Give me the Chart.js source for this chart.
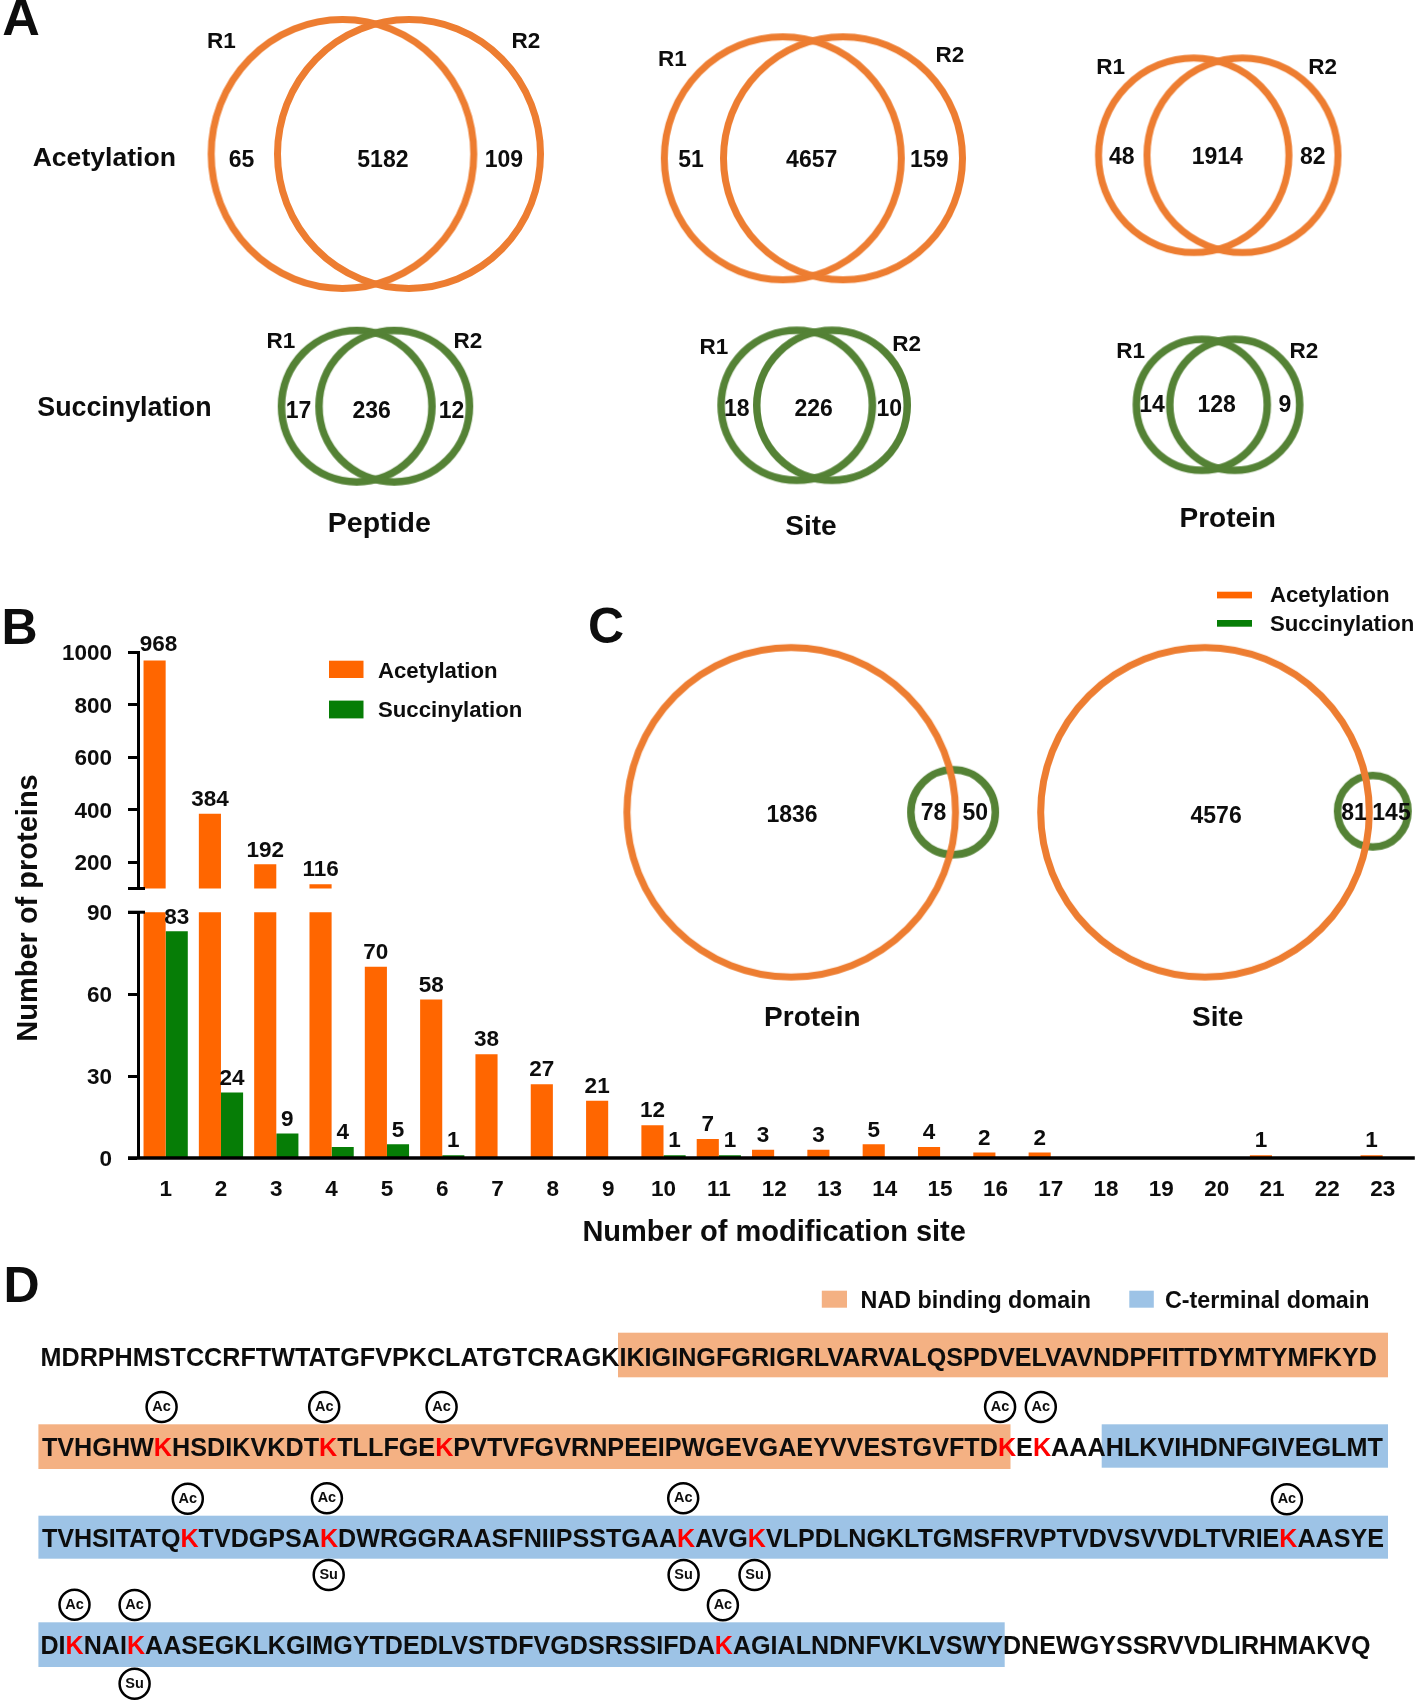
<!DOCTYPE html>
<html>
<head>
<meta charset="utf-8">
<script src="https://cdn.jsdelivr.net/npm/chart.js@4"></script>
<style>
html,body{margin:0;padding:0;background:#fff;}
#page{position:relative;width:1416px;height:1703px;overflow:hidden;background:#fff;filter:blur(0.45px);}
canvas{position:absolute;}
</style>
</head>
<body>
<div id="page">
<canvas id="overlay" width="1416" height="1703" style="left:0;top:0"></canvas>
<canvas id="upper" width="1416" height="280" style="left:0;top:620px"></canvas>
<canvas id="lower" width="1416" height="350" style="left:0;top:900px"></canvas>
</div>
<script>
/* ---------- data ---------- */
const categories = ["1","2","3","4","5","6","7","8","9","10","11","12","13","14","15","16","17","18","19","20","21","22","23"];
const acetylationCounts  = [968,384,192,116,70,58,38,27,21,12,7,3,3,5,4,2,2,0,0,0,1,0,1];
const succinylationCounts = [83,24,9,4,5,1,0,0,0,1,1,0,0,0,0,0,0,0,0,0,0,0,0];
const seriesNames = ["Acetylation","Succinylation"];
const upperTicks = [200,400,600,800,1000];
const lowerTicks = [0,30,60,90];

const acPeptide = [65,5182,109];
const acSite    = [51,4657,159];
const acProtein = [48,1914,82];
const suPeptide = [17,236,12];
const suSite    = [18,226,10];
const suProtein = [14,128,9];
const overlapProtein = [1836,78,50];
const overlapSite    = [4576,81,145];

/* odd positions are the modified lysines, drawn red */
const seqRow1 = ["MDRPHMSTCCRFTWTATGFVPKCLATGTCRAGKIKIGINGFGRIGRLVARVALQSPDVELVAVNDPFITTDYMTYMFKYD"];
const seqRow2 = ["TVHGHW","K","HSDIKVKDT","K","TLLFGE","K","PVTVFGVRNPEEIPWGEVGAEYVVESTGVFTD","K","E","K","AAAHLKVIHDNFGIVEGLMT"];
const seqRow3 = ["TVHSITATQ","K","TVDGPSA","K","DWRGGRAASFNIIPSSTGAA","K","AVG","K","VLPDLNGKLTGMSFRVPTVDVSVVDLTVRIE","K","AASYE"];
const seqRow4 = ["DI","K","NAI","K","AASEGKLKGIMGYTDEDLVSTDFVGDSRSSIFDA","K","AGIALNDNFVKLVSWYDNEWGYSSRVVDLIRHMAKVQ"];

/* ---------- styling / layout ---------- */
const FF = '"Liberation Sans", Arial, sans-serif';
const INK = '#0d0d0d';
const BAR_ORANGE = '#FF6600', BAR_GREEN = '#067D06';
const V_ORANGE = '#ED7D31', V_GREEN = '#548235';
const D_ORANGE = '#F4B183', D_BLUE = '#9DC3E6';

function ring(rx, ry, lw, color){
  const c = document.createElement('canvas');
  c.width = Math.ceil(2*rx+4); c.height = Math.ceil(2*ry+4);
  const g = c.getContext('2d');
  g.strokeStyle = color; g.lineWidth = lw;
  g.beginPath();
  g.ellipse(c.width/2, c.height/2, rx-lw/2, ry-lw/2, 0, 0, Math.PI*2);
  g.stroke();
  return c;
}
/* [centre x, centre y, outer rx, outer ry] */
const orangeRings = [
  [342.5,154,134.8,137.9],[409,154,135,137.9],
  [782.8,158.3,122,125],[843,158.3,123,125],
  [1193.7,155.2,98.7,100.8],[1242.5,155.2,99,100.8],
  [791.2,812.3,167.8,168.3],[1205,812.3,167.8,168.3]
];
const greenRings = [
  [356.7,406.2,79,79.4],[394.2,406.2,79,79.4],
  [796.7,405.3,79.4,78.7],[832,405.3,79,78.7],
  [1201.8,404.8,69.2,69.2],[1234.7,404.8,68.7,69.2],
  [953.1,812.2,46,46.2],[1372.8,811.2,39,39.5]
];
const acBadges = [[161.6,1407],[324.2,1407],[441.6,1407],[1000.1,1407],[1040.8,1407],
  [187.8,1498.7],[326.9,1498.3],[683.2,1498.3],[1286.9,1499.3],
  [74.5,1604.7],[134.6,1605],[722.9,1605.3]];
const suBadges = [[328.7,1575],[683.6,1575],[754.5,1575],[134.6,1683.7]];

const vennText = [
  [acPeptide,[241.6,158.2],[382.9,158.2],[503.9,158.2]],
  [acSite,[691,158.3],[811.7,158.3],[929.3,158.3]],
  [acProtein,[1121.7,155.7],[1217.3,155.7],[1312.7,155.7]],
  [suPeptide,[298.5,409.6],[371.6,409.6],[451.5,409.6]],
  [suSite,[736.7,407.3],[813.7,407.3],[889.3,407.3]],
  [suProtein,[1152,403.3],[1216.7,403.3],[1285,403.3]],
  [overlapProtein,[792,814],[933.6,811.7],[975.2,811.7]],
  [overlapSite,[1216.1,815],[1354,811.7],[1391.5,811.7]]
];
const repLabels = [
  ["R1",221.3,40],["R2",526,39.3],["R1",672.3,57.3],["R2",950,53.3],["R1",1110.7,65.7],["R2",1322.7,65.7],
  ["R1",280.8,340],["R2",467.8,340],["R1",714,345.3],["R2",906.7,342.3],["R1",1130.7,350],["R2",1304,350]
];

const TEXT_DY = 2;
function T(ctx, s, x, y, size, o){
  o = o || {};
  ctx.save();
  ctx.font = (o.normal?'':'bold ') + size + 'px ' + FF;
  ctx.fillStyle = o.color || INK;
  ctx.textAlign = o.align || 'center';
  ctx.textBaseline = 'middle';
  ctx.translate(x,y+TEXT_DY);
  if(o.rot) ctx.rotate(o.rot);
  ctx.fillText(String(s),0,0);
  ctx.restore();
}
function seq(ctx, segs, x0, x1, y){
  ctx.save();
  ctx.font = 'bold 26px ' + FF;
  ctx.textBaseline = 'middle';
  ctx.textAlign = 'left';
  const total = ctx.measureText(segs.join('')).width;
  const sx = (x1-x0)/total;
  ctx.translate(x0,y+TEXT_DY);
  ctx.scale(sx,1);
  let x = 0, prefix = '';
  segs.forEach((s,i)=>{
    ctx.fillStyle = i%2 ? '#FF0000' : INK;
    x = ctx.measureText(prefix).width;
    ctx.fillText(s,x,0);
    prefix += s;
  });
  ctx.restore();
}

const overlayPlugin = {
  id:'overlayPlugin',
  beforeDatasetsDraw(chart){
    const c = chart.ctx, X = chart.scales.x, Y = chart.scales.y;
    const rect = (x0,y0,x1,y1,col)=>{
      c.fillStyle = col;
      c.fillRect(X.getPixelForValue(x0),Y.getPixelForValue(y0),x1-x0,y1-y0);
    };
    rect(618,1332.7,1388,1377.3,D_ORANGE);
    rect(38.4,1424.3,1010.5,1469,D_ORANGE);
    rect(1101.7,1424.3,1388,1467.7,D_BLUE);
    rect(38.4,1515.7,1388,1558.7,D_BLUE);
    rect(38.4,1622.3,1004.7,1667,D_BLUE);
    rect(821.8,1290.7,847,1307.7,D_ORANGE);
    rect(1129.3,1290.7,1153.8,1307.7,D_BLUE);
    rect(329,660.7,363.5,678,BAR_ORANGE);
    rect(329,700.6,363.5,718.4,BAR_GREEN);
    rect(1217,591.7,1252,598.4,BAR_ORANGE);
    rect(1217,620,1252,626.7,BAR_GREEN);
  },
  afterDatasetsDraw(chart){
    const c = chart.ctx;
    T(c,'A',21,19,52); T(c,'B',19.5,628,50); T(c,'C',606,627,50); T(c,'D',21.5,1286,50);
    T(c,'Acetylation',104.3,157.1,26.6);
    T(c,'Succinylation',124.4,407.1,26.8);
    T(c,'Peptide',379.3,522,28.5);
    T(c,'Site',811,525,28);
    T(c,'Protein',1227.7,517.3,28);
    T(c,'Protein',812.3,1016.7,28);
    T(c,'Site',1217.7,1016.7,28);
    repLabels.forEach(r=>T(c,r[0],r[1],r[2],22.5));
    vennText.forEach(v=>{
      v[0].forEach((n,i)=>T(c,n,v[i+1][0],v[i+1][1],23));
    });
    T(c,'Number of proteins',29,906,29,{rot:-Math.PI/2});
    T(c,seriesNames[0],378,670,22.2,{align:'left'});
    T(c,seriesNames[1],378,708.8,22.2,{align:'left'});
    T(c,seriesNames[0],1270,594.3,22.2,{align:'left'});
    T(c,seriesNames[1],1270,622.7,22.2,{align:'left'});
    T(c,'NAD binding domain',860.6,1300,23.3,{align:'left'});
    T(c,'C-terminal domain',1165,1300,23.3,{align:'left'});
    seq(c,seqRow1,40.5,1377,1356.7);
    seq(c,seqRow2,41.9,1382.8,1446.7);
    seq(c,seqRow3,41.9,1384,1537.7);
    seq(c,seqRow4,40.5,1370.6,1644.7);
    acBadges.forEach(b=>T(c,'Ac',b[0],b[1]-2,14.5));
    suBadges.forEach(b=>T(c,'Su',b[0],b[1]-2,14.5));
  }
};

const pts = a => a.map(r=>({x:r[0],y:r[1]}));
new Chart(document.getElementById('overlay'),{
  type:'scatter',
  data:{datasets:[
    {label:'orange rings',data:pts(orangeRings),pointRadius:1,pointStyle:orangeRings.map(r=>ring(r[2],r[3],7,V_ORANGE))},
    {label:'green rings',data:pts(greenRings),pointRadius:1,pointStyle:greenRings.map(r=>ring(r[2],r[3],7.5,V_GREEN))},
    {label:'Ac',data:pts(acBadges),pointRadius:15,pointBorderWidth:2.5,pointBackgroundColor:'#fff',pointBorderColor:'#000'},
    {label:'Su',data:pts(suBadges),pointRadius:15,pointBorderWidth:2.5,pointBackgroundColor:'#fff',pointBorderColor:'#000'}
  ]},
  options:{
    responsive:false,maintainAspectRatio:false,animation:false,devicePixelRatio:1,
    layout:{padding:0,autoPadding:false},
    plugins:{legend:{display:false},tooltip:{enabled:false},title:{display:false}},
    scales:{
      x:{type:'linear',display:false,min:0,max:1416},
      y:{type:'linear',display:false,min:0,max:1703,reverse:true}
    }
  },
  plugins:[overlayPlugin]
});

/* ---------- panel B: two stacked Chart.js charts forming the broken axis ---------- */
const barLabels = {
  id:'barLabels',
  afterDatasetsDraw(chart){
    const c = chart.ctx, ys = chart.scales.y;
    chart.data.datasets.forEach((ds,di)=>{
      const meta = chart.getDatasetMeta(di);
      ds.data.forEach((v,i)=>{
        if(!v || v<ys.min || v>ys.max) return;
        const el = meta.data[i];
        T(c,v,el.x+(v===968?4:0),el.y-(v===968?18:16),22.5);
      });
    });
  }
};
const axisExtras = {
  id:'axisExtras',
  afterDraw(chart){
    const c = chart.ctx, ys = chart.scales.y, a = chart.chartArea;
    c.save();
    c.strokeStyle = '#000';
    const isLower = ys.min === 0;
    c.lineWidth = 3;
    const capY = ys.getPixelForValue(isLower ? ys.max : ys.min);
    c.beginPath(); c.moveTo(a.left-10,capY); c.lineTo(a.left+7,capY); c.stroke();
    if(isLower){
      c.lineWidth = 3.5;
      const zy = ys.getPixelForValue(0);
      c.beginPath(); c.moveTo(a.left-10,zy); c.lineTo(a.right+4.5,zy); c.stroke();
    }
    c.restore();
  }
};
const barDatasets = () => ([
  {label:seriesNames[0],data:acetylationCounts,backgroundColor:BAR_ORANGE},
  {label:seriesNames[1],data:succinylationCounts,backgroundColor:BAR_GREEN}
]);
const yAxis = (min,max,ticksList)=>({
  min,max,
  afterFit:s=>{s.width=138;s.paddingTop=0;s.paddingBottom=0;},
  afterBuildTicks:s=>{s.ticks=ticksList.map(v=>({value:v}));},
  border:{display:true,color:'#000',width:3},
  grid:{drawOnChartArea:false,drawTicks:true,tickLength:10,tickWidth:3,tickColor:'#000'},
  ticks:{color:INK,padding:16,labelOffset:2,autoSkip:false,callback:v=>String(v),font:{family:FF,size:22.5,weight:'bold'}}
});

new Chart(document.getElementById('upper'),{
  type:'bar',
  data:{labels:categories,datasets:barDatasets()},
  options:{
    responsive:false,maintainAspectRatio:false,animation:false,devicePixelRatio:1,
    barPercentage:1,categoryPercentage:0.8,
    layout:{padding:{top:32,bottom:11.5,right:5.7,left:0}},
    plugins:{legend:{display:false},tooltip:{enabled:false}},
    scales:{
      x:{display:false,offset:true},
      y:yAxis(100,1000,upperTicks)
    }
  },
  plugins:[barLabels,axisExtras]
});
new Chart(document.getElementById('lower'),{
  type:'bar',
  data:{labels:categories,datasets:barDatasets()},
  options:{
    responsive:false,maintainAspectRatio:false,animation:false,devicePixelRatio:1,
    barPercentage:1,categoryPercentage:0.8,
    layout:{padding:{top:12.2,bottom:0,right:5.7,left:0}},
    plugins:{legend:{display:false},tooltip:{enabled:false}},
    scales:{
      x:{
        offset:true,
        afterFit:s=>{s.height=92;},
        border:{display:false},
        grid:{display:false,drawTicks:false},
        ticks:{color:INK,padding:18.5,maxRotation:0,minRotation:0,autoSkip:false,font:{family:FF,size:22.5,weight:'bold'}},
        title:{display:true,text:'Number of modification site',color:INK,font:{family:FF,size:29,weight:'bold'},padding:{top:0,bottom:0}}
      },
      y:yAxis(0,90,lowerTicks)
    }
  },
  plugins:[barLabels,axisExtras]
});
</script>
</body>
</html>
